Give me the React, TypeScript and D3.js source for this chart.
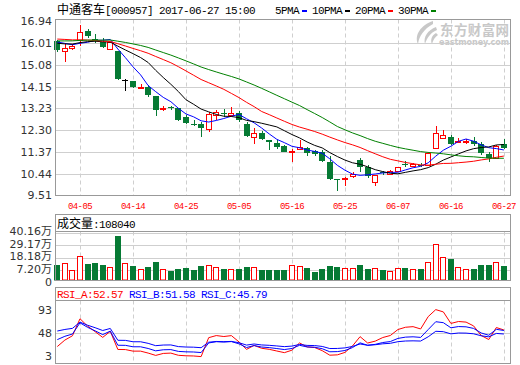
import * as d3 from 'd3';

const dates = [
  '03-29', '03-30', '03-31', '04-05', '04-06', '04-07', '04-10', '04-11', '04-12', '04-13',
  '04-14', '04-17', '04-18', '04-19', '04-20', '04-21', '04-24', '04-25', '04-26', '04-27',
  '04-28', '05-02', '05-03', '05-04', '05-05', '05-08', '05-09', '05-10', '05-11', '05-12',
  '05-15', '05-16', '05-17', '05-18', '05-19', '05-22', '05-23', '05-24', '05-25', '05-26',
  '05-31', '06-01', '06-02', '06-05', '06-06', '06-07', '06-08', '06-09', '06-12', '06-13',
  '06-14', '06-15', '06-16', '06-19', '06-20', '06-21', '06-22', '06-23', '06-26', '06-27',
];
const opens = [
  16.11, 15.66, 15.83, 16.15, 16.55, 16.2, 16.08, 15.77, 15.68, 14.45,
  14.4, 14.14, 14.16, 13.78, 13.2, 13.27, 13.24, 12.85, 12.57, 12.55,
  12.35, 12.93, 13.04, 12.95, 13.02, 12.55, 12.03, 12.17, 11.88, 11.74,
  11.64, 11.4, 11.52, 11.53, 11.41, 11.36, 10.93, 10.23, 10.2, 10.33,
  11.03, 10.75, 10.11, 10.52, 10.45, 10.56, 10.85, 10.76, 10.83, 10.81,
  11.56, 11.96, 12.03, 11.82, 11.8, 11.84, 11.7, 11.28, 11.13, 11.7,
];
const highs = [
  16.13, 16.01, 15.97, 16.79, 16.61, 16.39, 16.25, 16.08, 15.7, 14.47,
  14.4, 14.26, 14.23, 13.78, 13.35, 13.34, 13.24, 12.95, 12.74, 12.67,
  13.07, 13.17, 13.21, 13.27, 13.12, 12.63, 12.38, 12.27, 11.88, 11.88,
  11.69, 11.48, 11.88, 11.6, 11.46, 11.46, 11.22, 10.23, 10.32, 10.51,
  11.1, 10.83, 10.39, 10.58, 10.6, 10.75, 10.98, 10.92, 10.92, 11.39,
  12.5, 12.31, 12.1, 11.95, 11.93, 12.03, 11.79, 11.35, 11.69, 11.93,
];
const lows = [
  15.65, 15.23, 15.72, 15.91, 16.25, 16.01, 15.83, 15.72, 14.43, 13.98,
  14.09, 14.06, 13.71, 12.91, 13.1, 13.18, 12.7, 12.56, 12.46, 12.03,
  12.21, 12.74, 12.88, 12.88, 12.67, 12.03, 11.7, 11.87, 11.46, 11.52,
  11.35, 10.96, 11.48, 11.22, 11.22, 10.96, 10.18, 9.71, 9.9, 10.25,
  10.51, 10.28, 9.92, 10.4, 10.4, 10.56, 10.73, 10.72, 10.73, 10.81,
  11.5, 11.93, 11.66, 11.74, 11.7, 11.63, 11.25, 10.93, 11.13, 11.5,
];
const closes = [
  15.72, 15.83, 15.91, 16.51, 16.3, 16.11, 15.87, 16.08, 14.47, 14.45,
  14.16, 14.16, 13.8, 13.16, 13.23, 13.24, 12.74, 12.6, 12.55, 12.38,
  12.98, 13.07, 13.02, 13.05, 12.74, 12.07, 12.2, 11.91, 11.79, 11.59,
  11.36, 11.42, 11.6, 11.32, 11.27, 10.99, 10.21, 10.22, 10.28, 10.44,
  10.72, 10.33, 10.39, 10.5, 10.56, 10.75, 10.83, 10.85, 10.8, 11.32,
  12.17, 12.1, 11.7, 11.84, 11.82, 11.7, 11.32, 11.1, 11.64, 11.53,
];
// 成交量, in 万手
const volumes = [
  11.4, 13.2, 7.0, 19.1, 12.3, 13.2, 11.4, 9.4, 37.2, 13.2,
  10.5, 7.9, 9.7, 14.3, 7.9, 6.4, 7.9, 8.8, 7.3, 10.5,
  12.0, 9.7, 7.9, 7.9, 7.9, 9.7, 9.4, 7.3, 7.3, 7.3,
  7.3, 11.4, 10.3, 8.8, 5.6, 7.9, 10.5, 9.7, 8.8, 8.8,
  11.4, 7.9, 8.8, 7.3, 6.2, 8.8, 8.8, 7.9, 7.9, 14.1,
  29.9, 18.2, 16.7, 9.4, 8.5, 7.9, 11.4, 11.4, 14.1, 10.804,
];
// closes before 03-29, read back from where the MA lines start
const priorCloses = [
  15.8, 15.85, 15.92, 15.98, 16.02, 15.95, 15.9, 16.0, 16.05, 16.03,
  16.15, 16.3, 16.45, 16.52, 16.48, 16.4, 16.35, 16.42, 16.38, 16.25,
  16.1, 15.98, 15.9, 15.88, 15.94, 16.12, 16.2, 16.2, 16.08,
];

const priceTicks = [16.94, 16.01, 15.08, 14.15, 13.23, 12.3, 11.37, 10.44, 9.51];
const volumeTicks = [40.16, 29.17, 18.18, 7.2];
const rsiTicks = [93, 48, 3];
const dateTicks = ['04-05', '04-14', '04-25', '05-05', '05-16', '05-25', '06-07', '06-16', '06-27'];
const maPeriods = [5, 10, 20, 30];
const maColors = ['#0000ff', '#000000', '#ff0000', '#008000'];
const rsiPeriods = [6, 12, 24];
const rsiNames = ['RSI_A', 'RSI_B', 'RSI_C'];
const rsiLast = ['52.57', '51.58', '45.79'];
const rsiColors = ['#ff0000', '#0000ff', '#0000ff'];

const RED = '#ff0000';
const GREEN = '#067a34';
const FRAME = '#999999';
const GRID = '#cfcfcf';
const MONO = '"Liberation Mono", "Noto Sans CJK SC", monospace';
const CJK = '"Noto Sans CJK SC", sans-serif';
const SANS = '"DejaVu Sans", "Noto Sans CJK SC", sans-serif';

// eastmoney style RSI: SMA(MAX(C-LC,0),N,1)/SMA(ABS(C-LC),N,1)*100
function rsiSeries(values: number[], n: number): number[] {
  let up = 0;
  let all = 0;
  return values.map((v, k) => {
    if (k === 0) return 50;
    const d = v - values[k - 1];
    up = k === 1 ? Math.max(d, 0) : (Math.max(d, 0) + (n - 1) * up) / n;
    all = k === 1 ? Math.abs(d) : (Math.abs(d) + (n - 1) * all) / n;
    return all === 0 ? 50 : (up / all) * 100;
  });
}

export default function App(): JSX.Element {
  const width = 520;
  const height = 365;
  const left = 55.5;
  const right = 510.5;
  const main = { top: 19.5, bottom: 195.5 };
  const vol = { top: 214.5, head: 231.5, bottom: 280.5 };
  const rsi = { top: 287.5, head: 300.5, bottom: 363.5 };

  const x = d3.scalePoint<string>().domain(dates).range([57.3, 503.9]);
  const y = d3.scaleLinear().domain([9.51, 16.94]).range([195.6, 21.5]);
  const yVol = d3.scaleLinear().domain([7.2, 40.16]).range([270, 232.5]);
  // 93 / 3 are the extremes of the RSI lines, the labels sit a little inside
  const yRsi = d3.scaleLinear().domain([3, 93]).range([359.3, 306]);

  const allCloses = priorCloses.concat(closes);
  const offset = priorCloses.length;
  const mas = maPeriods.map(n =>
    closes.map((_, i) => d3.mean(allCloses.slice(i + offset - n + 1, i + offset + 1)) as number)
  );
  const rsis = rsiPeriods.map(n => rsiSeries(allCloses, n).slice(offset));

  const maLine = d3.line<number>().x((_, i) => x(dates[i]) as number).y(v => y(v));
  const rsiLine = d3.line<number>().x((_, i) => x(dates[i]) as number).y(v => yRsi(v));

  // legend positions: text then a small colour dash
  let lx = 275;
  const legend = maPeriods.map((p, k) => {
    const label = `${p}PMA`;
    const item = { label, x: lx, dash: lx + label.length * 6 + 3, color: maColors[k] };
    lx = item.dash + 10;
    return item;
  });

  return (
    <div style={{ position: 'absolute', left: 0, top: 0 }}>
      <svg width={width} height={height} style={{ display: 'block', background: '#fff' }}>
        <defs>
          <clipPath id="clip-main">
            <rect x={left} y={main.top} width={right - left} height={main.bottom - main.top} />
          </clipPath>
          <clipPath id="clip-rsi">
            <rect x={left} y={rsi.head} width={right - left} height={rsi.bottom - rsi.head} />
          </clipPath>
        </defs>

        {/* title + legend */}
        <text x={57} y={14} fontSize={11} fontFamily={MONO} letterSpacing={-0.6} fill="#000">
          <tspan fontFamily={CJK} fontSize={12} letterSpacing={0}>中通客车</tspan>
          <tspan>[000957] 2017-06-27 15:00</tspan>
        </text>
        {legend.map(l => (
          <g key={l.label}>
            <text x={l.x} y={14} fontSize={11} fontFamily={MONO} letterSpacing={-0.6} fill="#000">
              {l.label}
            </text>
            <rect x={l.dash} y={10} width={5} height={2} fill={l.color} />
          </g>
        ))}

        {/* watermark */}
        <g fill="#c8c8c8">
          <path d="M433,21 C421,25 414,35 418,44 C419,36 424,29 433,24 Z" />
          <path d="M436,27 C428,30 423,37 425,44 C427,38 430,33 437,30 Z" />
          <path d="M436,33 C432,35 430,40 432,44 C433,40 435,37 438,35 Z" />
          <text x={440} y={35} fontSize={13.5} fontWeight="bold" fontFamily={CJK} textLength={69}>东方财富网</text>
          <text x={439} y={44.5} fontSize={8} fontWeight="bold" fontFamily={SANS} textLength={70}>
            eastmoney.com
          </text>
        </g>

        {/* main panel grid */}
        {priceTicks.slice(1, -1).map(t => (
          <line key={t} x1={left} x2={right} y1={Math.round(y(t)) + 0.5} y2={Math.round(y(t)) + 0.5} stroke={GRID} />
        ))}
        {dateTicks.map(d => {
          const gx = Math.round(x(d) as number) + 0.5;
          return (
            <g key={d} stroke={GRID} strokeDasharray="4,3">
              <line x1={gx} x2={gx} y1={main.top} y2={main.bottom} />
              <line x1={gx} x2={gx} y1={vol.head} y2={vol.bottom} />
              <line x1={gx} x2={gx} y1={rsi.head} y2={rsi.bottom} />
            </g>
          );
        })}
        {priceTicks.map(t => (
          <text key={t} x={52} y={y(t)} dy="0.35em" textAnchor="end" fontSize={11} fontFamily={SANS} fill="#333">
            {t.toFixed(2)}
          </text>
        ))}

        {/* candles */}
        {dates.map((d, i) => {
          const cx = Math.round(x(d) as number);
          const o = opens[i];
          const c = closes[i];
          const color = c > o ? RED : c < o ? GREEN : '#000';
          const yTop = Math.round(y(Math.max(o, c)));
          const yBot = Math.round(y(Math.min(o, c)));
          const yH = Math.round(y(highs[i]));
          const yL = Math.round(y(lows[i]));
          const wx = cx + 0.5;
          if (c > o) {
            return (
              <g key={d} stroke={color} fill="#fff">
                <line x1={wx} x2={wx} y1={yH} y2={yTop} />
                <line x1={wx} x2={wx} y1={yBot + 1} y2={yL} />
                <rect x={cx - 2.5} y={yTop + 0.5} width={5} height={Math.max(yBot - yTop, 1)} />
              </g>
            );
          }
          if (c < o) {
            return (
              <g key={d}>
                <line x1={wx} x2={wx} y1={yH} y2={yL} stroke={color} />
                <rect x={cx - 3} y={yTop} width={6} height={Math.max(yBot - yTop, 1)} fill={color} />
              </g>
            );
          }
          return (
            <g key={d} stroke={color}>
              <line x1={wx} x2={wx} y1={yH} y2={yL} />
              <line x1={cx - 3} x2={cx + 3} y1={yTop + 0.5} y2={yTop + 0.5} />
            </g>
          );
        })}

        {/* moving averages */}
        <g clipPath="url(#clip-main)" fill="none">
          {mas.map((m, k) => (
            <path key={k} d={maLine(m) || ''} stroke={maColors[k]} strokeWidth={1} />
          ))}
        </g>

        <rect x={left} y={main.top} width={right - left} height={main.bottom - main.top} fill="none" stroke={FRAME} />

        {/* date axis */}
        {dateTicks.map(d => (
          <text key={d} x={x(d)} y={208.5} textAnchor="middle" fontSize={9} fontFamily={MONO} letterSpacing={-0.6} fill={RED}>
            {d}
          </text>
        ))}

        {/* volume panel */}
        {volumeTicks.map(t => (
          <g key={t}>
            <line x1={left} x2={right} y1={Math.round(yVol(t)) + 0.5} y2={Math.round(yVol(t)) + 0.5} stroke={GRID} />
            <text x={52} y={yVol(t) - 1} dy="0.35em" textAnchor="end" fontSize={11} fontFamily={SANS} fill="#333">
              {t.toFixed(2)}万
            </text>
          </g>
        ))}
        <text x={52} y={282} dy="0.35em" textAnchor="end" fontSize={11} fontFamily={SANS} fill="#333">0</text>
        {dates.map((d, i) => {
          const cx = Math.round(x(d) as number);
          const top = Math.round(yVol(volumes[i]));
          if (closes[i] >= opens[i]) {
            return (
              <rect key={d} x={cx - 2.5} y={top + 0.5} width={5} height={vol.bottom - top - 1} fill="#fff" stroke={RED} />
            );
          }
          return <rect key={d} x={cx - 3} y={top} width={6} height={vol.bottom - top} fill={GREEN} />;
        })}
        <rect x={left} y={vol.top} width={right - left} height={vol.bottom - vol.top} fill="none" stroke={FRAME} />
        <line x1={left} x2={right} y1={vol.head} y2={vol.head} stroke={FRAME} />
        <text x={57} y={227.5} fontSize={11} fontFamily={MONO} letterSpacing={-0.6} fill="#000">
          <tspan fontFamily={CJK} fontSize={12} letterSpacing={0}>成交量</tspan>
          <tspan>:{Math.round(volumes[volumes.length - 1] * 10000)}</tspan>
        </text>

        {/* RSI panel */}
        <line x1={left} x2={right} y1={Math.round(yRsi(48)) + 0.5} y2={Math.round(yRsi(48)) + 0.5} stroke={GRID} />
        {rsiTicks.map(t => (
          <text key={t} x={52} y={Math.min(Math.max(yRsi(t), 310), 356)} dy="0.35em" textAnchor="end" fontSize={11} fontFamily={SANS} fill="#333">
            {t}
          </text>
        ))}
        <g clipPath="url(#clip-rsi)" fill="none">
          {rsis.map((r, k) => (
            <path key={k} d={rsiLine(r) || ''} stroke={rsiColors[k]} strokeWidth={1} />
          ))}
        </g>
        <rect x={left} y={rsi.top} width={right - left} height={rsi.bottom - rsi.top} fill="none" stroke={FRAME} />
        <line x1={left} x2={right} y1={rsi.head} y2={rsi.head} stroke={FRAME} />
        <text x={57} y={297.5} fontSize={11} fontFamily={MONO} letterSpacing={-0.6}>
          {rsiNames.map((n, k) => (
            <tspan key={n} fill={rsiColors[k]}>{`${n}:${rsiLast[k]}${k < rsiNames.length - 1 ? ' ' : ''}`}</tspan>
          ))}
        </text>
      </svg>
    </div>
  );
}
